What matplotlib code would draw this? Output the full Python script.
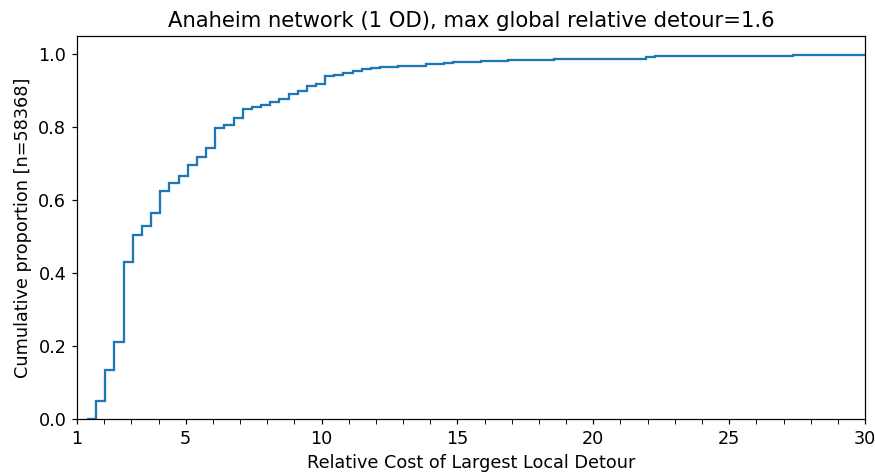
import numpy as np
import matplotlib
matplotlib.use("Agg")
import matplotlib.pyplot as plt
from matplotlib.ticker import MultipleLocator

# histogram bins of relative detour cost (left edge, width, count)
bin_start = 1.363
bin_width = 0.3373
n_bins = 86

# cumulative proportion in each bin
cum_prop = [
    0.000, 0.050, 0.135, 0.211, 0.430, 0.505, 0.528, 0.566, 0.626, 0.647,
    0.667, 0.697, 0.717, 0.742, 0.797, 0.807, 0.825, 0.851, 0.856, 0.860,
    0.868, 0.876, 0.890, 0.899, 0.913, 0.919, 0.940, 0.943, 0.948, 0.954,
    0.960, 0.961, 0.964, 0.965, 0.967, 0.968, 0.969, 0.9725, 0.974, 0.977,
    0.979, 0.980, 0.980, 0.982, 0.982, 0.982, 0.983, 0.983, 0.984, 0.984,
    0.985, 0.986, 0.986, 0.986, 0.987, 0.987, 0.987, 0.988, 0.988, 0.988,
    0.988, 0.993, 0.994, 0.994, 0.994, 0.994, 0.995, 0.995, 0.995, 0.995,
    0.995, 0.996, 0.996, 0.996, 0.996, 0.996, 0.996, 0.998, 0.998, 0.998,
    0.998, 0.998, 0.998, 0.998, 0.998, 0.999,
]

n_samples = 58368
title = "Anaheim network (1 OD), max global relative detour=1.6"

edges = bin_start + bin_width * np.arange(n_bins + 1)

plt.rcParams["font.size"] = 11.5

fig, ax = plt.subplots(figsize=(875 / 110, 474 / 110), dpi=110)
fig.subplots_adjust(left=0.088, right=0.9886, top=0.924, bottom=0.116)

ax.stairs(cum_prop, edges, baseline=None, color="C0", linewidth=1.5)

ax.set_xlim(1, 30)
ax.set_ylim(0, 1.05)
ax.set_xticks([1, 5, 10, 15, 20, 25, 30])
ax.xaxis.set_minor_locator(MultipleLocator(1))
ax.tick_params(axis="x", which="minor", length=3.5)

ax.set_xlabel("Relative Cost of Largest Local Detour")
ax.set_ylabel(f"Cumulative proportion [n={n_samples}]")
ax.set_title(title, fontsize=13.8)

fig.savefig("out.png", dpi=110)
